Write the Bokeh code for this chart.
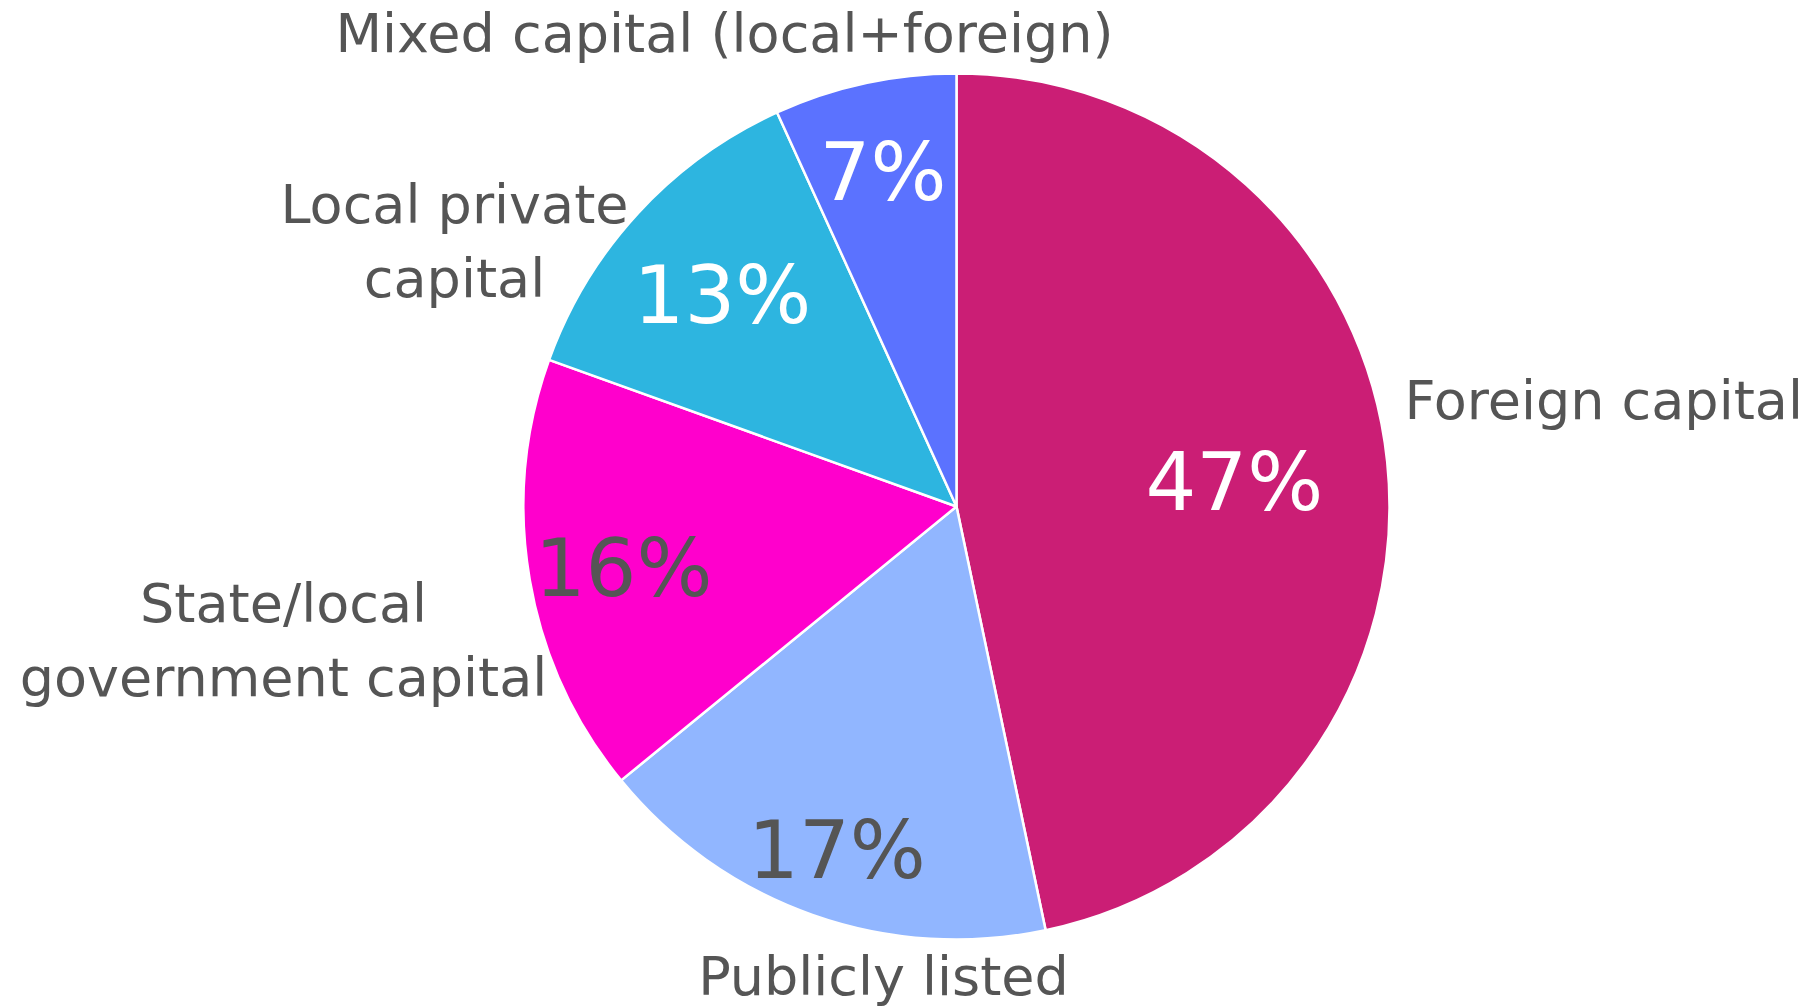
import math
from bokeh.plotting import figure
from bokeh.models import Range1d, ColumnDataSource
from bokeh.core.properties import value
from bokeh.embed import file_html
from bokeh.resources import INLINE

# ---- data ----
categories = ["Foreign capital", "Publicly listed", "State/local\ngovernment capital",
              "Local private\ncapital", "Mixed capital (local+foreign)"]
shares = [46.7, 17.4, 16.4, 12.7, 6.8]
pct_labels = ["47%", "17%", "16%", "13%", "7%"]

# ---- style / layout ----
colors = ["#CB1E75", "#91B6FF", "#FF00CC", "#2DB5E0", "#5B72FF"]
pct_colors = ["#FFFFFF", "#555555", "#555555", "#FFFFFF", "#FFFFFF"]
pct_radius_frac = [0.645, 0.83, 0.78, 0.735, 0.80]
PCT_DROP = 5
# outside label anchors in page pixels: (x, first baseline y, align)
label_layout = [(1404, 400, "left"), (883, 976, "center"), (283, 603, "center"),
                (454, 204, "center"), (724, 33, "center")]
LINE_GAP = 74
FONT = "DejaVu Sans"
W, H = 1819, 1008
CX_PAGE, CY_PAGE, R = 956, 506, 433


def dx(x):
    return x


def dy(y):
    return H - y


p = figure(width=W, height=H, x_range=Range1d(0, W), y_range=Range1d(0, H),
           output_backend="svg", toolbar_location=None, min_border=0)
p.axis.visible = False
p.grid.visible = False
p.outline_line_color = None
p.background_fill_color = "white"
p.border_fill_color = "white"

cx, cy = dx(CX_PAGE), dy(CY_PAGE)
total = sum(shares)
starts, ends, mids = [], [], []
cum = 0.0
for s in shares:
    a0 = math.pi / 2 - 2 * math.pi * cum / total
    cum += s
    a1 = math.pi / 2 - 2 * math.pi * cum / total
    starts.append(a0)
    ends.append(a1)
    mids.append((a0 + a1) / 2)

src = ColumnDataSource(dict(x=[cx] * len(shares), y=[cy] * len(shares),
                            start=starts, end=ends, color=colors, cat=categories))
p.wedge(x="x", y="y", radius=R, radius_units="screen", start_angle="start",
        end_angle="end", direction="clock", fill_color="color",
        line_color="white", line_width=2.5, source=src)

# percentage labels
px = [cx + f * R * math.cos(m) for f, m in zip(pct_radius_frac, mids)]
py = [cy + f * R * math.sin(m) - PCT_DROP for f, m in zip(pct_radius_frac, mids)]
p.text(x=px, y=py, text=pct_labels, text_color=pct_colors,
       text_font=value(FONT), text_font_size="80px",
       text_align="center", text_baseline="middle")

# outside labels
lx, ly, lt, la = [], [], [], []
for cat, (x, y, al) in zip(categories, label_layout):
    for i, line in enumerate(cat.split("\n")):
        lx.append(dx(x))
        ly.append(dy(y + i * LINE_GAP))
        lt.append(line)
        la.append(al)
p.text(x=lx, y=ly, text=lt, text_align=la, text_color="#555555",
       text_font=value(FONT), text_font_size="54px", text_baseline="alphabetic")

open("out.html", "w").write(file_html(p, INLINE))
